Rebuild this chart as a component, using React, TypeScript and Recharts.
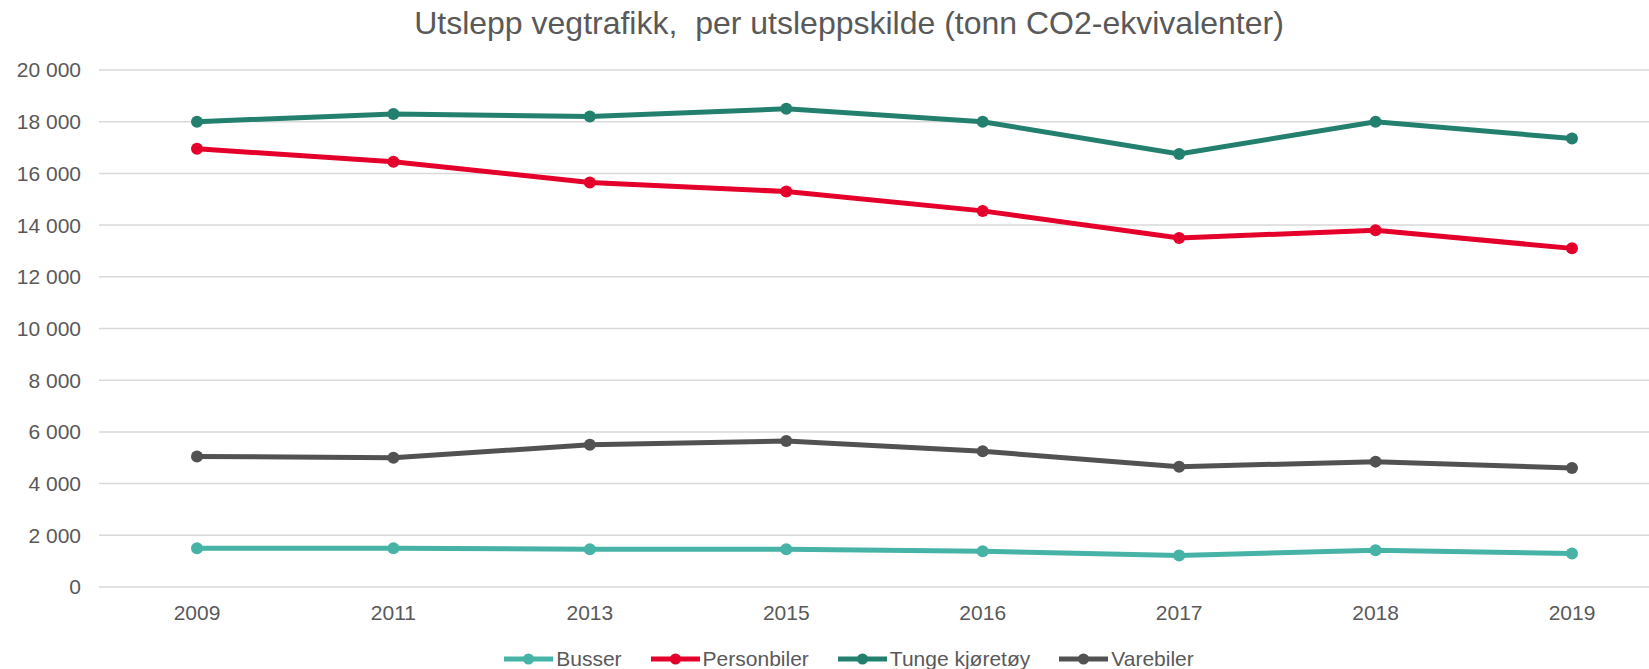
import { LineChart, Line, XAxis, YAxis, CartesianGrid, Legend } from "recharts";

const years = ["2009", "2011", "2013", "2015", "2016", "2017", "2018", "2019"];
const busser = [1500, 1500, 1460, 1460, 1380, 1220, 1420, 1300];
const personbiler = [16950, 16450, 15650, 15300, 14550, 13500, 13800, 13100];
const tungeKjoretoy = [18000, 18300, 18200, 18500, 18000, 16750, 18000, 17350];
const varebiler = [5050, 5000, 5500, 5650, 5250, 4650, 4850, 4600];
const yTicks = [0, 2000, 4000, 6000, 8000, 10000, 12000, 14000, 16000, 18000, 20000];

const title = "Utslepp vegtrafikk,\u00a0 per utsleppskilde (tonn CO2-ekvivalenter)";

const series = [
  { key: "busser", name: "Busser", color: "#47b3a7", values: busser },
  { key: "personbiler", name: "Personbiler", color: "#e4002b", values: personbiler },
  { key: "tunge", name: "Tunge kjøretøy", color: "#23806f", values: tungeKjoretoy },
  { key: "varebiler", name: "Varebiler", color: "#525252", values: varebiler },
];

const data = years.map((year, i) => {
  const row: Record<string, string | number> = { year };
  series.forEach(s => { row[s.key] = s.values[i]; });
  return row;
});

const font = "'Liberation Sans', Arial, sans-serif";
const textColor = "#595959";

const formatTick = (v: number) =>
  v >= 1000 ? `${Math.floor(v / 1000)} ${String(v % 1000).padStart(3, "0")}` : String(v);

const renderLegend = () => (
  <div
    style={{
      display: "flex",
      justifyContent: "center",
      alignItems: "center",
      height: 20,
      gap: 29,
      fontFamily: font,
      fontSize: 21,
      lineHeight: "20px",
      color: textColor,
    }}
  >
    {series.map(s => (
      <div key={s.key} style={{ display: "flex", alignItems: "center" }}>
        <svg width={49} height={14}>
          <line x1={0} y1={7} x2={49} y2={7} stroke={s.color} strokeWidth={5} />
          <circle cx={24.5} cy={7} r={5.5} fill={s.color} />
        </svg>
        <span style={{ marginLeft: 3 }}>{s.name}</span>
      </div>
    ))}
  </div>
);

export default function App() {
  return (
    <div style={{ position: "relative", width: 1649, height: 669, overflow: "hidden", background: "#fff" }}>
      <style>{"body{margin:0}"}</style>
      <div
        style={{
          position: "absolute",
          top: 7,
          left: 0,
          width: 1698,
          textAlign: "center",
          fontFamily: font,
          fontSize: 32,
          lineHeight: "32px",
          color: textColor,
          whiteSpace: "pre",
          zIndex: 1,
        }}
      >
        {title}
      </div>
      <LineChart width={1698} height={669} data={data} margin={{ top: 70, right: 28, bottom: 0, left: 0 }}>
        <CartesianGrid vertical={false} stroke="#d9d9d9" strokeWidth={1.5} />
        <XAxis
          dataKey="year"
          axisLine={false}
          tickLine={false}
          tickSize={0}
          tickMargin={18}
          height={62}
          padding={{ left: 98, right: 98 }}
          interval={0}
          tick={{ fontSize: 21, fill: textColor, fontFamily: font }}
        />
        <YAxis
          domain={[0, 20000]}
          ticks={yTicks}
          interval={0}
          width={99}
          axisLine={false}
          tickLine={false}
          tickSize={0}
          tickMargin={18}
          tickFormatter={formatTick}
          tick={{ fontSize: 21, fill: textColor, fontFamily: font }}
        />
        <Legend
          verticalAlign="bottom"
          height={20}
          content={renderLegend}
          wrapperStyle={{ left: 0, width: 1698 }}
        />
        {series.map(s => (
          <Line
            key={s.key}
            type="linear"
            dataKey={s.key}
            name={s.name}
            stroke={s.color}
            strokeWidth={5}
            dot={{ r: 6, fill: s.color, stroke: "none" }}
            activeDot={false}
            isAnimationActive={false}
          />
        ))}
      </LineChart>
    </div>
  );
}
